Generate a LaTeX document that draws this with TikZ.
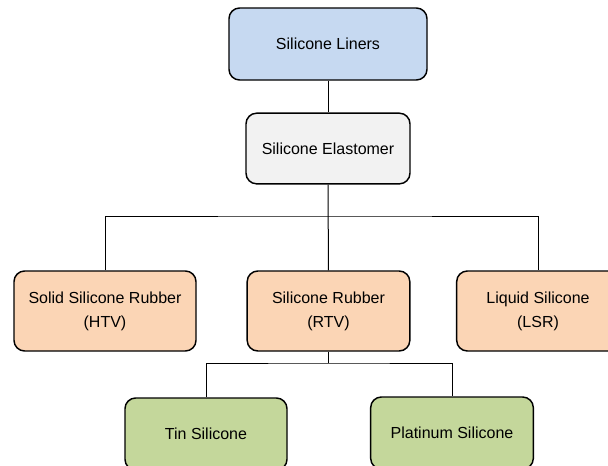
\documentclass[tikz,border=0pt]{standalone}
\usepackage{fontspec}
\setmainfont{Liberation Sans}
\usepackage{tikz}
\usetikzlibrary{positioning}

\definecolor{linerblue}{HTML}{C6D9F1}
\definecolor{elastgrey}{HTML}{F2F2F2}
\definecolor{rubberpeach}{HTML}{FBD5B5}
\definecolor{silgreen}{HTML}{C4D79B}

\begin{document}
\begin{tikzpicture}[x=0.75pt,y=-0.75pt,
	box/.style={draw,line width=1.1pt,rounded corners=8pt,align=center,
		font=\fontsize{12}{18}\selectfont,inner sep=0pt},
	link/.style={draw,line width=0.75pt}]
\clip (0,0) rectangle (608,465);
\node[box,fill=linerblue,minimum width=148.5pt,minimum height=54pt] (liners) at (328,44) {Silicone Liners};
\node[box,fill=elastgrey,minimum width=123pt,minimum height=53pt] (elast) at (328,148.5) {Silicone Elastomer};
\node[box,fill=rubberpeach,minimum width=136.5pt,minimum height=60pt] (htv) at (105,311) {Solid Silicone Rubber\\(HTV)};
\node[box,fill=rubberpeach,minimum width=122pt,minimum height=60pt] (rtv) at (328.5,311) {Silicone Rubber\\(RTV)};
\node[box,fill=rubberpeach,minimum width=122pt,minimum height=60pt] (lsr) at (538,311) {Liquid Silicone\\(LSR)};
\node[box,fill=silgreen,minimum width=121.5pt,minimum height=54pt] (tin) at (206,434) {Tin Silicone};
\node[box,fill=silgreen,minimum width=122pt,minimum height=54pt] (plat) at (452,433) {Platinum Silicone};

\coordinate (bus1) at (328,216);
\coordinate (bus2) at (328.5,363);
\draw[link] (liners) -- (elast);
\draw[link] (elast) -- (rtv);
\draw[link] (htv.north) |- (bus1) -| (lsr.north);
\draw[link] (rtv) -- (bus2);
\draw[link] (tin.north) |- (bus2) -| (plat.north);
\end{tikzpicture}
\end{document}
